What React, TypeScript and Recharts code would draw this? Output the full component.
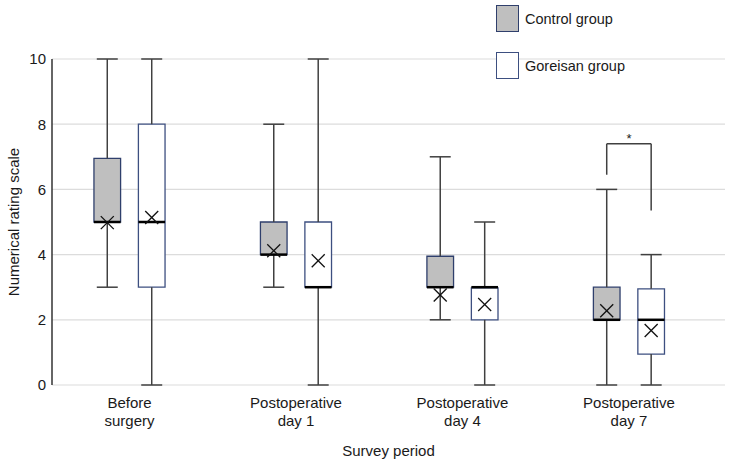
import { ComposedChart, XAxis, YAxis, CartesianGrid, Scatter, ReferenceArea, ReferenceLine, ReferenceDot, Legend } from "recharts";

const periods = [
    ["Before", "surgery"],
    ["Postoperative", "day 1"],
    ["Postoperative", "day 4"],
    ["Postoperative", "day 7"],
];

// box plot stats per survey period (NRS)
const controlMin = [3, 3, 2, 0];
const controlQ1 = [5, 4, 3, 2];
const controlMedian = [5, 4, 3, 2];
const controlQ3 = [6.95, 5, 3.95, 3];
const controlMax = [10, 8, 7, 6];
const controlMean = [4.98, 4.12, 2.76, 2.28];

const goreisanMin = [0, 0, 0, 0];
const goreisanQ1 = [3, 3, 2, 0.95];
const goreisanMedian = [5, 3, 3, 2];
const goreisanQ3 = [8, 5, 2.98, 2.95];
const goreisanMax = [10, 10, 5, 4];
const goreisanMean = [5.14, 3.81, 2.47, 1.67];

const yTicks = [0, 2, 4, 6, 8, 10];

// significance bracket on day 7: top, left leg end, right leg end
const bracketTop = 7.4;
const bracketLeft = 6.45;
const bracketRight = 5.35;

const colors = {
    controlFill: "#bfbfbf",
    controlStroke: "#2f3f6c",
    goreisanFill: "#ffffff",
    goreisanStroke: "#3d4f80",
    whisker: "#404040",
    grid: "#dcdcdc",
    text: "#1a1a1a",
};

const OFFSET = 0.1335;
const BOX_HALF = 0.08;
const CAP_HALF = 0.063;

const controlGroup = {
    off: -OFFSET, min: controlMin, q1: controlQ1, med: controlMedian, q3: controlQ3, max: controlMax,
    fill: colors.controlFill, stroke: colors.controlStroke,
};
const goreisanGroup = {
    off: OFFSET, min: goreisanMin, q1: goreisanQ1, med: goreisanMedian, q3: goreisanQ3, max: goreisanMax,
    fill: colors.goreisanFill, stroke: colors.goreisanStroke,
};

const controlMeans = controlMean.map((y, i) => ({ x: i - OFFSET, y }));
const goreisanMeans = goreisanMean.map((y, i) => ({ x: i + OFFSET, y }));

function MeanCross(props: any) {
    const { cx, cy } = props;
    const s = 6.5;
    return (
        <g stroke="#111" strokeWidth={1.3}>
            <line x1={cx - s} y1={cy - s} x2={cx + s} y2={cy + s} />
            <line x1={cx - s} y1={cy + s} x2={cx + s} y2={cy - s} />
        </g>
    );
}

function PeriodTick(props: any) {
    const { x, y, payload } = props;
    const lines = periods[payload.value] || [];
    return (
        <text x={x} y={y} textAnchor="middle" fill={colors.text} fontSize={15}>
            <tspan x={x} y={y + 23}>{lines[0]}</tspan>
            <tspan x={x} y={y + 41}>{lines[1]}</tspan>
        </text>
    );
}

function LegendBox() {
    const row = { display: "flex", alignItems: "center", height: 27, fontSize: 14.5, color: colors.text };
    return (
        <div style={{ fontFamily: "'Liberation Sans', Arial, sans-serif" }}>
            <div style={row}>
                <div style={{ width: 21, height: 25, background: colors.controlFill, border: `1.5px solid ${colors.controlStroke}`, marginRight: 6 }} />
                Control group
            </div>
            <div style={{ ...row, marginTop: 20 }}>
                <div style={{ width: 21, height: 25, background: colors.goreisanFill, border: `1.5px solid ${colors.goreisanStroke}`, marginRight: 6 }} />
                Goreisan group
            </div>
        </div>
    );
}

function boxElements(g: typeof controlGroup, name: string) {
    return periods.flatMap((_, i) => {
        const c = i + g.off;
        return [
            <ReferenceLine key={`${name}-wu-${i}`} segment={[{ x: c, y: g.q3[i] }, { x: c, y: g.max[i] }]} stroke={colors.whisker} strokeWidth={1.5} />,
            <ReferenceLine key={`${name}-wl-${i}`} segment={[{ x: c, y: g.min[i] }, { x: c, y: g.q1[i] }]} stroke={colors.whisker} strokeWidth={1.5} />,
            <ReferenceLine key={`${name}-cu-${i}`} segment={[{ x: c - CAP_HALF, y: g.max[i] }, { x: c + CAP_HALF, y: g.max[i] }]} stroke={colors.whisker} strokeWidth={1.5} />,
            <ReferenceLine key={`${name}-cl-${i}`} segment={[{ x: c - CAP_HALF, y: g.min[i] }, { x: c + CAP_HALF, y: g.min[i] }]} stroke={colors.whisker} strokeWidth={1.5} />,
            <ReferenceArea key={`${name}-box-${i}`} x1={c - BOX_HALF} x2={c + BOX_HALF} y1={g.q1[i]} y2={g.q3[i]} fill={g.fill} fillOpacity={1} stroke={g.stroke} strokeWidth={1.3} />,
            <ReferenceLine key={`${name}-med-${i}`} segment={[{ x: c - BOX_HALF, y: g.med[i] }, { x: c + BOX_HALF, y: g.med[i] }]} stroke="#000" strokeWidth={2.5} />,
        ];
    });
}

export default function App() {
    return (
        <div style={{ position: "absolute", left: 0, top: 0, fontFamily: "'Liberation Sans', Arial, sans-serif" }}>
            <ComposedChart width={730} height={460} margin={{ top: 59, right: 5, bottom: 0, left: 0 }}>
                <CartesianGrid vertical={false} stroke={colors.grid} strokeWidth={1.2} />
                <XAxis
                    type="number"
                    dataKey="x"
                    domain={[-0.4655, 3.577]}
                    ticks={[0, 1, 2, 3]}
                    allowDataOverflow
                    axisLine={false}
                    tickLine={false}
                    tickSize={0}
                    tickMargin={0}
                    height={75}
                    tick={<PeriodTick />}
                    label={{ value: "Survey period", position: "insideBottom", offset: 4, fill: colors.text, fontSize: 15 }}
                />
                <YAxis
                    type="number"
                    dataKey="y"
                    domain={[0, 10]}
                    ticks={yTicks}
                    width={52}
                    axisLine={{ stroke: "#333", strokeWidth: 1.5 }}
                    tickLine={false}
                    tickSize={0}
                    tickMargin={6}
                    tick={{ fill: colors.text, fontSize: 15 }}
                    label={{ value: "Numerical rating scale", angle: -90, position: "insideLeft", offset: 14, fill: colors.text, fontSize: 15, style: { textAnchor: "middle" } }}
                />
                <Legend layout="horizontal" verticalAlign="middle" align="center" content={<LegendBox />} wrapperStyle={{ left: 496, top: 5, width: 200, height: 90 }} />

                {boxElements(controlGroup, "control")}
                {boxElements(goreisanGroup, "goreisan")}

                <ReferenceLine segment={[{ x: 3 - OFFSET, y: bracketLeft }, { x: 3 - OFFSET, y: bracketTop }]} stroke={colors.whisker} strokeWidth={1.5} />
                <ReferenceLine segment={[{ x: 3 - OFFSET, y: bracketTop }, { x: 3 + OFFSET, y: bracketTop }]} stroke={colors.whisker} strokeWidth={1.5} />
                <ReferenceLine segment={[{ x: 3 + OFFSET, y: bracketTop }, { x: 3 + OFFSET, y: bracketRight }]} stroke={colors.whisker} strokeWidth={1.5} />
                <ReferenceDot x={3} y={7.55} r={0} fill="none" stroke="none" label={{ value: "*", position: "center", fontSize: 13, fill: colors.text }} />

                <Scatter name="Control group" data={controlMeans} dataKey="y" shape={<MeanCross />} isAnimationActive={false} />
                <Scatter name="Goreisan group" data={goreisanMeans} dataKey="y" shape={<MeanCross />} isAnimationActive={false} />
            </ComposedChart>
        </div>
    );
}
